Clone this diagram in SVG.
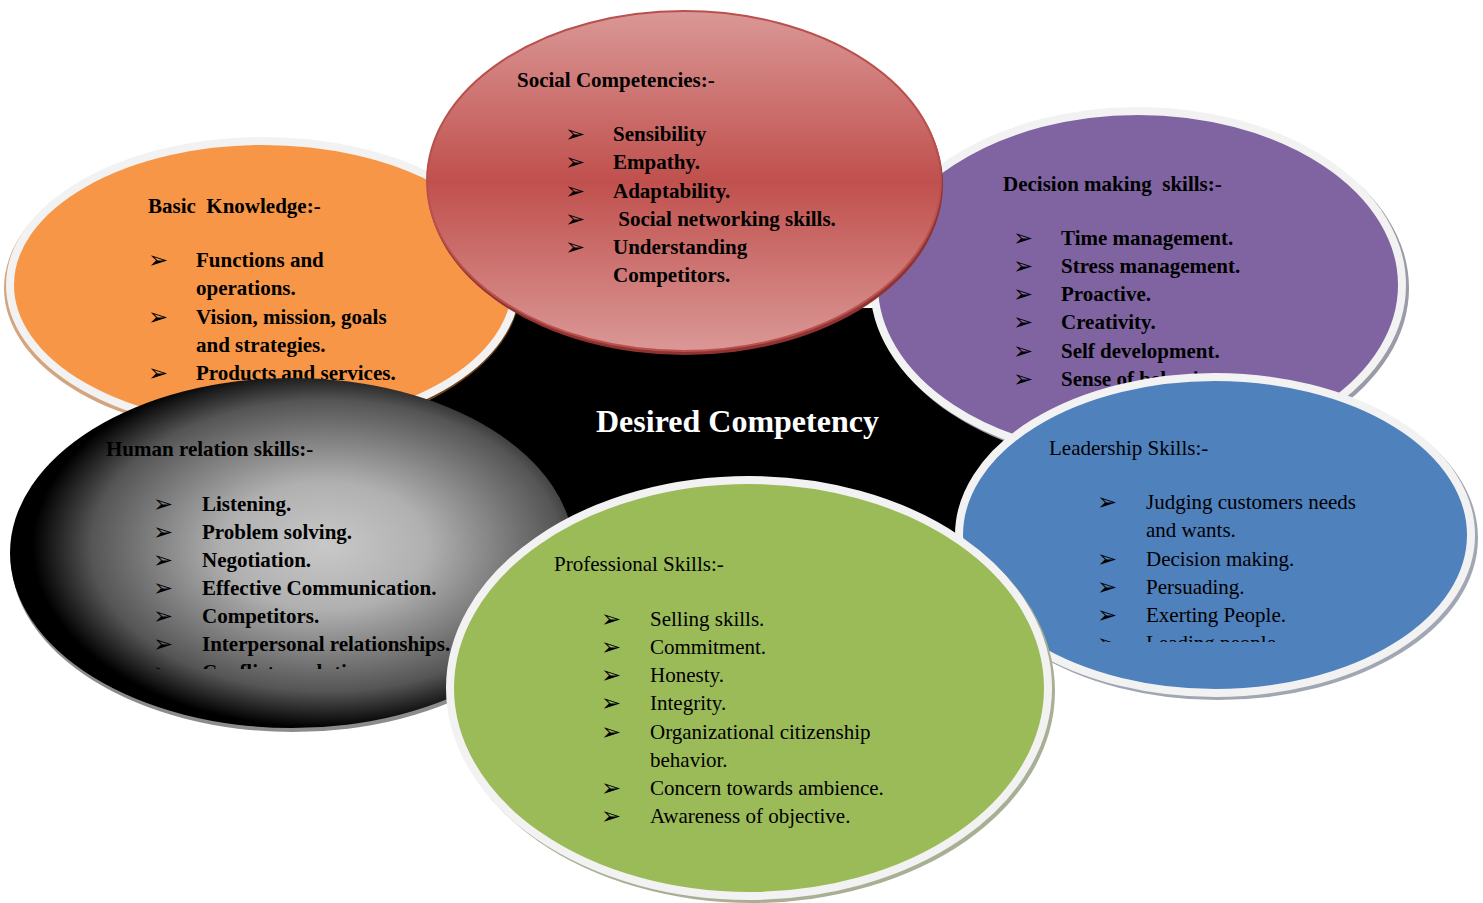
<svg xmlns="http://www.w3.org/2000/svg" width="1483" height="903" viewBox="0 0 1483 903">
  <style>
    .t { font-family: "Liberation Serif", "Times New Roman", serif; font-size: 21px; fill: #000; white-space: pre; }
    .b { font-weight: bold; }
    .bul { font-family: "DejaVu Sans", sans-serif; font-size: 24px; fill: #000; }
    .ring { stroke: #F2F2F2; stroke-width: 8; }
    .title { font-family: "Liberation Serif", "Times New Roman", serif; font-size: 32px; font-weight: bold; fill: #FFFFFF; }
  </style>
  <defs>
    <linearGradient id="redGrad" x1="0" y1="0" x2="0" y2="1">
      <stop offset="0" stop-color="#DA9896"/>
      <stop offset="0.5" stop-color="#C0504D"/>
      <stop offset="1" stop-color="#DA9896"/>
    </linearGradient>
    <radialGradient id="greyGrad" cx="0.56" cy="0.48" r="0.52">
      <stop offset="0" stop-color="#C8C8C8"/>
      <stop offset="0.35" stop-color="#B0B0B0"/>
      <stop offset="0.8" stop-color="#555555"/>
      <stop offset="1" stop-color="#000000"/>
    </radialGradient>
    <clipPath id="hubClip"><rect x="0" y="308" width="1483" height="595"/></clipPath>
    <clipPath id="humanClip"><rect x="0" y="380" width="600" height="289"/></clipPath>
    <clipPath id="leadClip"><rect x="960" y="380" width="520" height="262"/></clipPath>
  </defs>

  <!-- central hub -->
  <g id="hub">
    <ellipse cx="740" cy="460" rx="330" ry="240" fill="#000" clip-path="url(#hubClip)"/>
  </g>

  <!-- Basic Knowledge -->
  <g id="basic-knowledge">
    <ellipse cx="261" cy="288" rx="257" ry="148" fill="#D2A57F"/>
    <ellipse cx="266" cy="288" rx="254" ry="146" fill="#6B3E14"/>
    <ellipse cx="263" cy="285" rx="253" ry="144" fill="#F79646" class="ring"/>
    <text class="t b" x="148" y="213">Basic  Knowledge:-</text>
    <text class="bul" x="148" y="268">➢</text><text class="t b" x="196" y="267">Functions and</text>
    <text class="t b" x="196" y="295">operations.</text>
    <text class="bul" x="148" y="325">➢</text><text class="t b" x="196" y="324">Vision, mission, goals</text>
    <text class="t b" x="196" y="352">and strategies.</text>
    <text class="bul" x="148" y="381">➢</text><text class="t b" x="196" y="380">Products and services.</text>
  </g>

  <!-- Decision making skills -->
  <g id="decision-making">
    <ellipse cx="1141" cy="288" rx="268" ry="178" fill="#9A9AA8"/>
    <ellipse cx="1138" cy="285" rx="264" ry="174" fill="#8064A2" class="ring"/>
    <text class="t b" x="1003" y="191">Decision making  skills:-</text>
    <text class="bul" x="1013" y="246">➢</text><text class="t b" x="1061" y="245">Time management.</text>
    <text class="bul" x="1013" y="274">➢</text><text class="t b" x="1061" y="273">Stress management.</text>
    <text class="bul" x="1013" y="302">➢</text><text class="t b" x="1061" y="301">Proactive.</text>
    <text class="bul" x="1013" y="330">➢</text><text class="t b" x="1061" y="329">Creativity.</text>
    <text class="bul" x="1013" y="359">➢</text><text class="t b" x="1061" y="358">Self development.</text>
    <text class="bul" x="1013" y="387">➢</text><text class="t b" x="1061" y="386">Sense of behavior.</text>
  </g>

  <!-- Social Competencies -->
  <g id="social-competencies">
    <ellipse cx="685" cy="184" rx="258" ry="171" fill="#8E3331"/>
    <ellipse cx="684" cy="181" rx="257" ry="170" fill="url(#redGrad)" stroke="#B9504D" stroke-width="2"/>
    <text class="t b" x="517" y="87">Social Competencies:-</text>
    <text class="bul" x="565" y="142">➢</text><text class="t b" x="613" y="141">Sensibility</text>
    <text class="bul" x="565" y="170">➢</text><text class="t b" x="613" y="169">Empathy.</text>
    <text class="bul" x="565" y="199">➢</text><text class="t b" x="613" y="198">Adaptability.</text>
    <text class="bul" x="565" y="227">➢</text><text class="t b" x="613" y="226"> Social networking skills.</text>
    <text class="bul" x="565" y="255">➢</text><text class="t b" x="613" y="254">Understanding</text>
    <text class="t b" x="613" y="282">Competitors.</text>
  </g>

  <!-- Human relation skills -->
  <g id="human-relation">
    <ellipse cx="293" cy="557" rx="282" ry="175" fill="#8C8C8C"/>
    <ellipse cx="292" cy="553" rx="282" ry="175" fill="url(#greyGrad)"/>
    <g clip-path="url(#humanClip)">
      <text class="t b" x="106" y="456">Human relation skills:-</text>
      <text class="bul" x="153" y="512">➢</text><text class="t b" x="202" y="511">Listening.</text>
      <text class="bul" x="153" y="540">➢</text><text class="t b" x="202" y="539">Problem solving.</text>
      <text class="bul" x="153" y="568">➢</text><text class="t b" x="202" y="567">Negotiation.</text>
      <text class="bul" x="153" y="596">➢</text><text class="t b" x="202" y="595">Effective Communication.</text>
      <text class="bul" x="153" y="624">➢</text><text class="t b" x="202" y="623">Competitors.</text>
      <text class="bul" x="153" y="652">➢</text><text class="t b" x="202" y="651">Interpersonal relationships.</text>
      <text class="bul" x="153" y="680">➢</text><text class="t b" x="202" y="679">Conflict resolution.</text>
    </g>
  </g>

  <!-- Leadership Skills -->
  <g id="leadership">
    <ellipse cx="1218" cy="538" rx="260" ry="162" fill="#A0A6B2"/>
    <ellipse cx="1215" cy="535" rx="256" ry="158" fill="#4F81BD" class="ring"/>
    <g clip-path="url(#leadClip)">
      <text class="t" x="1049" y="455">Leadership Skills:-</text>
      <text class="bul" x="1097" y="510">➢</text><text class="t" x="1146" y="509">Judging customers needs</text>
      <text class="t" x="1146" y="537">and wants.</text>
      <text class="bul" x="1097" y="567">➢</text><text class="t" x="1146" y="566">Decision making.</text>
      <text class="bul" x="1097" y="595">➢</text><text class="t" x="1146" y="594">Persuading.</text>
      <text class="bul" x="1097" y="623">➢</text><text class="t" x="1146" y="622">Exerting People.</text>
      <text class="bul" x="1097" y="651">➢</text><text class="t" x="1146" y="650">Leading people.</text>
    </g>
  </g>

  <!-- Professional Skills -->
  <g id="professional">
    <ellipse cx="752" cy="691" rx="303" ry="212" fill="#A7B095"/>
    <ellipse cx="749" cy="688" rx="299" ry="208" fill="#9BBB59" class="ring"/>
    <text class="t" x="554" y="571">Professional Skills:-</text>
    <text class="bul" x="601" y="627">➢</text><text class="t" x="650" y="626">Selling skills.</text>
    <text class="bul" x="601" y="655">➢</text><text class="t" x="650" y="654">Commitment.</text>
    <text class="bul" x="601" y="683">➢</text><text class="t" x="650" y="682">Honesty.</text>
    <text class="bul" x="601" y="711">➢</text><text class="t" x="650" y="710">Integrity.</text>
    <text class="bul" x="601" y="740">➢</text><text class="t" x="650" y="739">Organizational citizenship</text>
    <text class="t" x="650" y="767">behavior.</text>
    <text class="bul" x="601" y="796">➢</text><text class="t" x="650" y="795">Concern towards ambience.</text>
    <text class="bul" x="601" y="824">➢</text><text class="t" x="650" y="823">Awareness of objective.</text>
  </g>

  <!-- hub label, drawn above the surrounding ovals -->
  <g id="hub-label">
    <text class="title" x="596" y="432">Desired Competency</text>
  </g>
</svg>
